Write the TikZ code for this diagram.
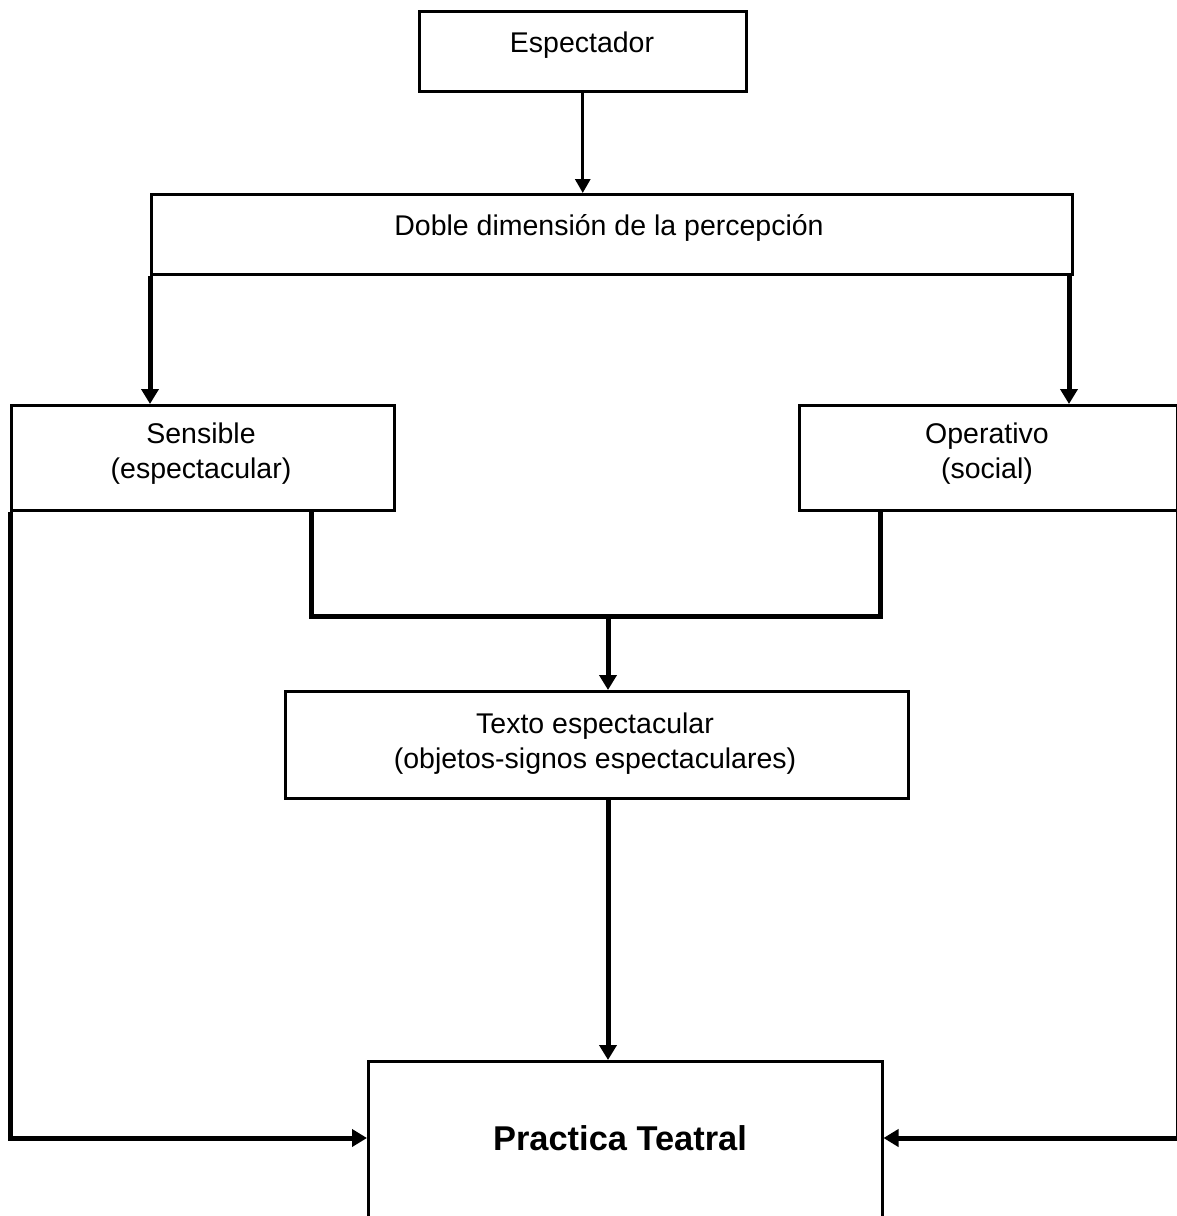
\documentclass[tikz,border=0pt]{standalone}
\usepackage{fontspec}
\setmainfont{Liberation Sans}
\usetikzlibrary{arrows.meta}
\tikzset{
  box/.style={draw=black, line width=2.5pt, inner sep=0pt, fill=white, anchor=north west},
  lbl/.style={inner sep=0pt, anchor=base, align=center, font=\fontsize{28.5}{35}\selectfont},
  big/.style={inner sep=0pt, anchor=base, font=\fontsize{34.4}{40}\selectfont\bfseries},
  conn/.style={draw=black, line width=5pt, line join=miter},
  arr/.style={conn, -{Triangle[length=15pt,width=17pt]}},
  thinarr/.style={draw=black, line width=3pt, -{Triangle[length=14pt,width=15pt]}},
}
\begin{document}
\begin{tikzpicture}[x=1pt, y=-1pt]
\useasboundingbox (0,0) rectangle (1176,1216);
\fill[white] (0,0) rectangle (1176,1216);

% boxes
\node[box, minimum width=327pt, minimum height=80pt] (esp) at (418,10) {};
\node[box, minimum width=921pt, minimum height=80pt] (dbl) at (150,193) {};
\node[box, minimum width=383pt, minimum height=105pt] (sen) at (10,404) {};
\node[box, minimum width=378pt, minimum height=105pt] (op) at (798,404) {};
\node[box, minimum width=623pt, minimum height=107pt] (tex) at (284,690) {};
\node[box, minimum width=514pt, minimum height=170pt] (pra) at (367,1060) {};

% labels (base anchor of a two-line label = baseline of its last line)
\node[lbl] (espT) at (582,52) {Espectador};
\node[lbl] (dblT) at (609,235) {Doble dimensión de la percepción};
\node[lbl] (senT) at (201,478) {Sensible\\(espectacular)};
\node[lbl] (opT) at (987,478) {Operativo\\(social)};
\node[lbl] (texT) at (595,768) {Texto espectacular\\(objetos-signos espectaculares)};
\node[big] (praT) at (620,1150) {Practica Teatral};

% helper coordinates
\coordinate (sL) at (311,616);
\coordinate (oR) at (880,616);
\coordinate (mid) at (608,616);
\coordinate (ay) at (0,1138);
\coordinate (dR) at (1069,273);

% connectors
\draw[thinarr] (esp.south) -- (esp.south |- dbl.north);
\draw[arr] (dbl.south west) -- (dbl.south west |- sen.north);
\draw[arr] (dR) -- (dR |- op.north);
\draw[conn] (sen.south -| sL) -- (sL) -- (oR) -- (op.south -| oR);
\draw[arr] (mid) -- (mid |- tex.north);
\draw[arr] (tex.south -| mid) -- (mid |- pra.north);
\draw[arr] (sen.south west) -- (sen.south west |- ay) -- (ay -| pra.west);
\draw[arr] (op.south east) -- (op.south east |- ay) -- (ay -| pra.east);
\end{tikzpicture}
\end{document}
